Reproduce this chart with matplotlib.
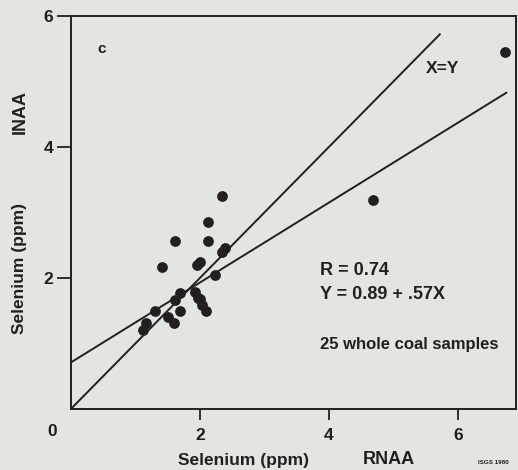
import matplotlib.pyplot as plt
import numpy as np

# Selenium (ppm): RNAA (x) vs INAA (y), 25 whole coal samples
rnaa = [2.34, 2.12, 1.61, 2.12, 1.41, 1.95, 2.00, 2.34, 2.39, 2.23,
        1.69, 1.61, 1.92, 1.97, 2.03, 2.10, 1.69, 1.30, 1.59, 1.51,
        1.17, 1.12, 4.69, 6.73, 2.00]
inaa = [3.25, 2.85, 2.56, 2.57, 2.16, 2.20, 2.25, 2.40, 2.45, 2.05,
        1.77, 1.66, 1.78, 1.70, 1.58, 1.49, 1.49, 1.50, 1.31, 1.41,
        1.31, 1.21, 3.19, 5.45, 1.68]

# regression line as drawn in the figure
fit_intercept = 0.71
fit_slope = 0.61
fit_xmax = 6.75
xy_xmax = 5.72

ink = "#231f20"
bg = "#e3e5e0"
plt.rcParams["font.family"] = ["Liberation Sans", "DejaVu Sans"]
plt.rcParams["font.weight"] = "bold"

fig = plt.figure(figsize=(5.18, 4.70), dpi=100, facecolor=bg)
ax = fig.add_axes([0.137, 0.130, 0.859, 0.836], facecolor=bg)

ax.scatter(rnaa, inaa, s=60, color=ink, zorder=3, linewidths=0)

x1 = np.array([0, xy_xmax])
ax.plot(x1, x1, color=ink, lw=1.4)
x2 = np.array([0, fit_xmax])
ax.plot(x2, fit_intercept + fit_slope * x2, color=ink, lw=1.4)

ax.set_xlim(0, 6.9)
ax.set_ylim(0, 6)
ax.set_xticks([2, 4, 6])
ax.set_yticks([2, 4, 6])
ax.tick_params(direction="out", length=8, width=1.3, colors=ink, labelsize=12.5)
ax.tick_params(axis="x", pad=6)
ax.tick_params(axis="y", length=10, pad=3)
for s in ax.spines.values():
    s.set_color(ink)
    s.set_linewidth(1.4)

fig.text(52 / 518, 1 - 432 / 470, "0", fontsize=12.5, color=ink, ha="center", va="center")
ax.text(0.47, 5.5, "c", fontsize=11, color=ink, ha="center", va="center")
ax.text(5.5, 5.2, "X=Y", fontsize=12.5, color=ink, ha="left", va="center")
ax.text(3.86, 2.12, "R = 0.74", fontsize=13, color=ink, va="center")
ax.text(3.86, 1.74, "Y = 0.89 + .57X", fontsize=13, color=ink, va="center")
ax.text(3.86, 0.98, "25 whole coal samples", fontsize=12, color=ink, va="center")

fig.text(243 / 518, 1 - 460 / 470, "Selenium (ppm)", fontsize=12.5, color=ink, ha="center", va="center")
fig.text(389 / 518, 1 - 460 / 470, "RNAA", fontsize=13, color=ink, ha="center", va="center")
fig.text(493 / 518, 1 - 462 / 470, "ISGS 1980", fontsize=4.5, color=ink, ha="center", va="center")
fig.text(20 / 518, 1 - 268 / 470, "Selenium (ppm)", fontsize=12.5, color=ink, ha="center", va="center", rotation=90)
fig.text(20 / 518, 1 - 112 / 470, "INAA", fontsize=13, color=ink, ha="center", va="center", rotation=90)

fig.savefig("out.png", dpi=100, facecolor=bg)
